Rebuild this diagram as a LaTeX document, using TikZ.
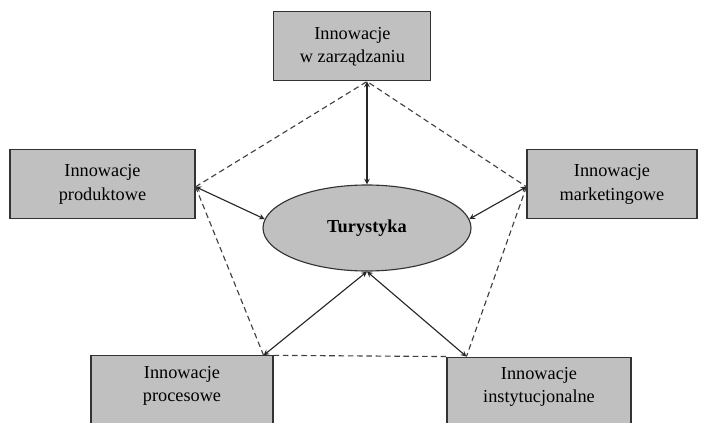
\documentclass[tikz,border=0pt]{standalone}
\usepackage{fontspec}
\setmainfont{Liberation Serif}
\usetikzlibrary{calc,shapes.geometric}
\definecolor{boxgray}{RGB}{192,192,192}

\tikzset{
    innobox/.style={draw=black!80, line width=0.8pt, fill=boxgray, align=center,
        font=\fontsize{13pt}{16.4pt}\selectfont, inner sep=0pt},
    link/.style={<->, >=stealth, line width=0.8pt, black!85},
    frame/.style={dashed, dash pattern=on 4pt off 2.6pt, line width=0.8pt, black!75}
}

\begin{document}
\begin{tikzpicture}
        \useasboundingbox (0,0) rectangle (17.575,10.55);
        \node[innobox, minimum width=3.925cm, minimum height=1.725cm] (zarz) at (8.81,9.39) {Innowacje\\w zarządzaniu};
        \node[innobox, minimum width=4.625cm, minimum height=1.725cm] (prod) at (2.5625,5.94) {Innowacje\\produktowe};
        \node[innobox, minimum width=4.25cm, minimum height=1.725cm] (mark) at (15.3,5.94) {Innowacje\\marketingowe};
        \node[innobox, minimum width=4.55cm, minimum height=1.725cm, text depth=9pt] (proc) at (4.55,0.79) {Innowacje\\procesowe};
        \node[innobox, minimum width=4.6cm, minimum height=1.725cm, text depth=9pt] (inst) at (13.475,0.76) {Innowacje\\instytucjonalne};
        \node[innobox, ellipse, minimum width=5.2cm, minimum height=2.15cm] (tur) at (9.175,4.85) {\textbf{Turystyka}};

        % corners of the dashed pentagon
        \coordinate (vt) at (tur.north |- zarz.south);
        \coordinate (vl) at ($(prod.east)+(0,-0.06)$);
        \coordinate (vr) at ($(mark.west)+(0,-0.06)$);
        \coordinate (vbl) at ($(proc.north east)+(-0.25,0)$);
        \coordinate (vbr) at ($(inst.north west)+(0.5,0)$);

        \draw[frame] (vl) -- (vt) -- (vr);
        \draw[frame] (vl) -- (vbl);
        \draw[frame] (vr) -- (vbr);
        \draw[frame] (proc.north east) -- (inst.north west);

        \draw[link] (vt) -- (tur.north);
        \draw[link] (vl) -- (tur.175);
        \draw[link] (vr) -- (tur.5);
        \draw[link] (vbl) -- (tur.south);
        \draw[link] (vbr) -- (tur.south);
    \end{tikzpicture}
\end{document}
